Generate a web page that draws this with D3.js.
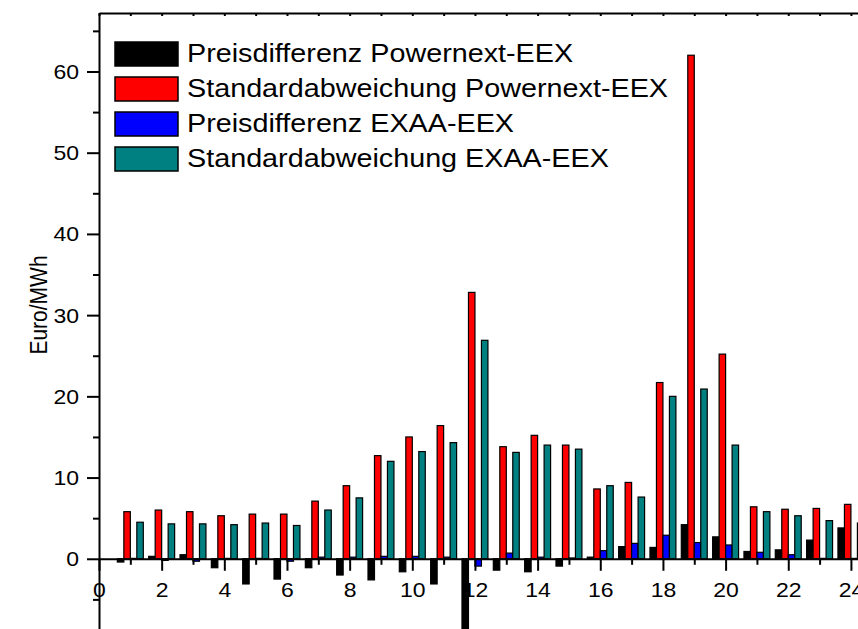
<!DOCTYPE html>
<html>
<head>
<meta charset="utf-8">
<script src="https://cdn.jsdelivr.net/npm/d3@7"></script>
<style>
  body { margin: 0; background: #fff; }
  svg { display: block; font-family: 'Liberation Sans', Arial, sans-serif; }
</style>
</head>
<body>
<script>
'use strict'

// hours 1..24
var hours = d3.range(1, 25)
var preisPowernext = [-0.4, 0.3, 0.5, -1.1, -3.1, -2.5, -1.1, -2.0, -2.6, -1.6, -3.1, -10.5, -1.4, -1.6, -0.9, 0.2, 1.5, 1.4, 4.2, 2.7, 0.9, 1.1, 2.3, 3.8]
var stdPowernext = [5.8, 6.0, 5.8, 5.3, 5.5, 5.5, 7.1, 9.0, 12.7, 15.0, 16.4, 32.8, 13.8, 15.2, 14.0, 8.6, 9.4, 21.7, 62.0, 25.2, 6.4, 6.1, 6.2, 6.7]
var preisExaa = [0.05, -0.2, -0.3, 0.05, 0.05, -0.3, 0.2, 0.2, 0.3, 0.3, 0.2, -0.9, 0.7, 0.2, 0.1, 1.0, 1.9, 2.9, 2.0, 1.7, 0.8, 0.5, 0.05, 0.05]
var stdExaa = [4.5, 4.3, 4.3, 4.2, 4.4, 4.1, 6.0, 7.5, 12.0, 13.2, 14.3, 26.9, 13.1, 14.0, 13.5, 9.0, 7.6, 20.0, 20.9, 14.0, 5.8, 5.3, 4.7, 4.4]

var seriesNames = ['Preisdifferenz Powernext-EEX', 'Standardabweichung Powernext-EEX', 'Preisdifferenz EXAA-EEX', 'Standardabweichung EXAA-EEX']
var seriesColors = ['#000000', '#ff0000', '#0000ff', '#008080']
var seriesValues = [preisPowernext, stdPowernext, preisExaa, stdExaa]

var yTicks = [0, 10, 20, 30, 40, 50, 60]
var xTicks = d3.range(0, 26, 2)

var width = 858
var height = 629
var stretch = 1.15 // text in the original is a bit wider than Arial

var x = d3.scaleLinear().domain([0, 25]).range([99, 99 + 25 * 31.33])
var y = d3.scaleLinear().domain([-10, 67.2]).range([640, 13])
var barW = 0.207 // in hours

var svg = d3.select('body').append('svg')
  .attr('width', width)
  .attr('height', height)

// bars
var bars = []
seriesValues.forEach(function (vals, s) {
  vals.forEach(function (v, i) {
    bars.push({ s: s, h: hours[i], v: v })
  })
})

svg.append('g').selectAll('rect')
  .data(bars)
  .enter().append('rect')
  .attr('x', d => x(d.h + (d.s - 2) * barW))
  .attr('width', d => x(d.h + (d.s - 1) * barW) - x(d.h + (d.s - 2) * barW))
  .attr('y', d => y(Math.max(0, d.v)))
  .attr('height', d => Math.abs(y(d.v) - y(0)))
  .attr('fill', d => seriesColors[d.s])
  .attr('stroke', '#000')
  .attr('stroke-width', 1.2)

// y axis
var yAxis = svg.append('g')
  .attr('transform', `translate(${x(0)},0)`)
  .call(d3.axisLeft(y).tickValues(yTicks).tickSize(12).tickSizeOuter(0))
svg.append('g')
  .attr('transform', `translate(${x(0)},0)`)
  .call(d3.axisLeft(y).tickValues(d3.range(-5, 70, 10)).tickSize(6).tickSizeOuter(0).tickFormat(''))
  .select('.domain').remove()
yAxis.selectAll('text')
  .attr('x', null).attr('dy', null)
  .attr('transform', `translate(-20,7) scale(${stretch},1)`)
  .style('font-size', '20px')

// x axis at zero
var xAxis = svg.append('g')
  .attr('transform', `translate(0,${y(0)})`)
  .call(d3.axisBottom(x).tickValues(xTicks).tickSize(12).tickSizeOuter(0))
svg.append('g')
  .attr('transform', `translate(0,${y(0)})`)
  .call(d3.axisBottom(x).tickValues(d3.range(1, 25, 2)).tickSize(6).tickSizeOuter(0).tickFormat(''))
  .select('.domain').remove()
xAxis.selectAll('text')
  .attr('y', null).attr('dy', null)
  .attr('transform', `translate(0,38) scale(${stretch},1)`)
  .style('font-size', '20px')

// top frame
var topFrame = svg.append('g').attr('transform', `translate(0,${y.range()[1]})`)
topFrame.call(d3.axisTop(x).tickValues(d3.range(0, 26, 1)).tickSize(-3).tickSizeOuter(0).tickFormat(''))

svg.selectAll('.domain, .tick line')
  .attr('stroke', '#000')
  .attr('stroke-width', 2)
svg.selectAll('.tick text').attr('fill', '#000').style('font-family', "'Liberation Sans', Arial, sans-serif")

// y label
svg.append('text')
  .attr('transform', `translate(47,305) rotate(-90) scale(1,${stretch})`)
  .attr('text-anchor', 'middle')
  .style('font-size', '21px')
  .text('Euro/MWh')

// legend
var legend = svg.append('g').selectAll('g')
  .data(seriesNames)
  .enter().append('g')
  .attr('transform', (d, i) => `translate(115,${42 + i * 35})`)
legend.append('rect')
  .attr('width', 63)
  .attr('height', 24)
  .attr('fill', (d, i) => seriesColors[i])
  .attr('stroke', '#000')
  .attr('stroke-width', 1.5)
legend.append('text')
  .attr('transform', `translate(72,20) scale(${stretch},1)`)
  .style('font-size', '25px')
  .text(d => d)
</script>
</body>
</html>
